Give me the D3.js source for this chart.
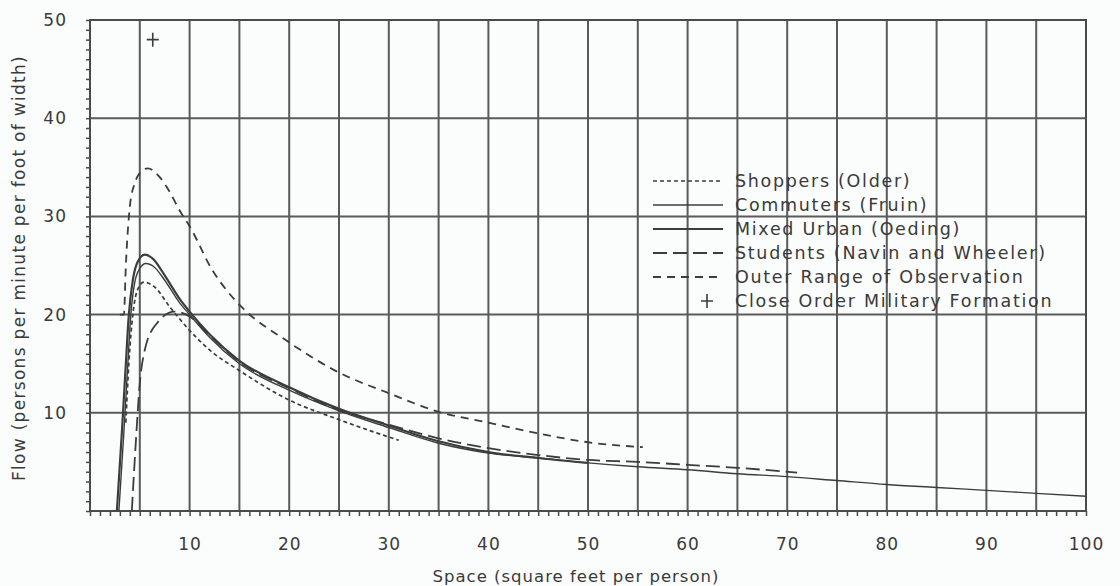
<!DOCTYPE html>
<html>
<head>
<meta charset="utf-8">
<script src="https://cdn.jsdelivr.net/npm/d3@7"></script>
<style>
  body { margin: 0; background: #fbfcfc; }
  svg { display: block; }
  text { font-family: "DejaVu Sans", sans-serif; fill: #3a3a3a; }
</style>
</head>
<body>
<svg id="chart" width="1120" height="586"></svg>
<script>
// values (x = sq ft / person, y = persons / min / ft)
const xTickLabels = [10, 20, 30, 40, 50, 60, 70, 80, 90, 100];
const yTickLabels = [10, 20, 30, 40, 50];

const shoppers = [[3.6, 9], [3.9, 15], [4.3, 20], [4.8, 22.6], [5.4, 23.3], [6.5, 22.8],
  [8, 20.8], [10, 18.4], [12, 16.4], [15, 14.3], [20, 11.3], [25, 9.3], [31, 7.2]];

const commuters = [[2.9, 0], [3.4, 8], [3.8, 15], [4.1, 20], [4.5, 23.3], [5, 24.7],
  [5.6, 25.2], [6.5, 24.8], [7.5, 23.5], [9, 21.2], [10, 20], [12, 17.7], [15, 15],
  [20, 12.3], [25, 10.2], [30, 8.5], [35, 6.9], [40, 5.9], [45, 5.4], [50, 4.9],
  [55, 4.5], [60, 4.2], [65, 3.8], [70, 3.5], [75, 3.1], [80, 2.7], [85, 2.4],
  [90, 2.1], [95, 1.8], [100, 1.5]];

const mixedUrban = [[2.7, 0], [3.2, 8], [3.6, 15], [3.9, 20], [4.3, 23.5], [4.8, 25.4],
  [5.5, 26.1], [6.3, 25.7], [7.5, 24], [9, 21.6], [10, 20.3], [12, 18], [15, 15.3],
  [20, 12.6], [25, 10.4], [30, 8.7], [35, 7.1], [40, 6.0], [45, 5.4], [50, 4.9]];

const students = [[4.2, 0], [4.6, 7], [5.0, 13], [5.5, 16.4], [6.7, 19.1], [8.5, 20.3],
  [10, 19.8], [12, 17.9], [15, 15.2], [20, 12.5], [25, 10.3], [30, 8.8], [35, 7.4],
  [40, 6.4], [45, 5.7], [50, 5.2], [55, 5.0], [60, 4.7], [65, 4.4], [71, 3.9]];

const outerRange = [[3.0, 20], [3.4, 20], [3.6, 25], [4.0, 31], [4.5, 33.4], [5.0, 34.4],
  [5.8, 34.9], [7, 34], [8, 32.5], [9, 30.6], [10, 29], [12.3, 24.5], [13.7, 22.5],
  [15.4, 20.6], [19.8, 17.3], [25, 14.1], [30, 12.0], [35, 10.1], [40, 9.0],
  [45, 7.9], [50, 7.0], [55.5, 6.5]];

const military = [[6.3, 48]];

const seriesNames = ["Shoppers (Older)", "Commuters (Fruin)", "Mixed Urban (Oeding)",
  "Students (Navin and Wheeler)", "Outer Range of Observation", "Close Order Military Formation"];

const ink = "#3c3c3c";
const svg = d3.select("#chart");

const x = d3.scaleLinear().domain([0, 100]).range([90, 1086]);
const y = d3.scaleLinear().domain([0, 50]).range([511, 20]);

// grid
const grid = svg.append("g").attr("stroke", "#5a5a5a").attr("stroke-width", 2);
grid.selectAll(".vg").data(d3.range(5, 100, 5)).enter().append("line")
  .attr("x1", d => x(d)).attr("x2", d => x(d))
  .attr("y1", y(0)).attr("y2", y(50));
grid.selectAll(".hg").data(d3.range(10, 50, 10)).enter().append("line")
  .attr("x1", x(0)).attr("x2", x(100))
  .attr("y1", d => y(d)).attr("y2", d => y(d));
grid.append("rect")
  .attr("x", x(0)).attr("y", y(50))
  .attr("width", x(100) - x(0)).attr("height", y(0) - y(50))
  .attr("fill", "none").attr("stroke", "#4a4a4a");

// minor ticks
const xMinor = svg.append("g").attr("transform", `translate(0,${y(0)})`)
  .call(d3.axisBottom(x).tickValues(d3.range(0, 101)).tickSize(5).tickFormat(""));
const yMinor = svg.append("g").attr("transform", `translate(${x(0)},0)`)
  .call(d3.axisLeft(y).tickValues(d3.range(0, 51)).tickSize(4).tickFormat(""));
[xMinor, yMinor].forEach(g => {
  g.select(".domain").remove();
  g.selectAll("line").attr("stroke", "#4a4a4a").attr("stroke-width", 1.5);
});

// tick labels
const xLab = svg.append("g").attr("transform", `translate(0,${y(0)})`)
  .call(d3.axisBottom(x).tickValues(xTickLabels).tickSize(0).tickPadding(27));
const yLab = svg.append("g").attr("transform", `translate(${x(0)},0)`)
  .call(d3.axisLeft(y).tickValues(yTickLabels).tickSize(0).tickPadding(23));
[xLab, yLab].forEach(g => {
  g.select(".domain").remove();
  g.selectAll("text").attr("font-size", 17).attr("fill", "#3a3a3a")
    .attr("letter-spacing", "1px")
    .attr("font-family", "DejaVu Sans, sans-serif");
});

svg.append("text")
  .attr("x", 576).attr("y", 582)
  .attr("text-anchor", "middle").attr("font-size", 16.5)
  .attr("letter-spacing", "1px")
  .text("Space (square feet per person)");
svg.append("text")
  .attr("transform", "translate(25,268) rotate(-90)")
  .attr("text-anchor", "middle").attr("font-size", 17)
  .attr("letter-spacing", "1.3px")
  .text("Flow (persons per minute per foot of width)");

// curves
const line = d3.line().x(d => x(d[0])).y(d => y(d[1])).curve(d3.curveMonotoneX);
const styles = [
  { data: shoppers, width: 1.7, dash: "4,3" },
  { data: commuters, width: 1.4, dash: null },
  { data: mixedUrban, width: 2.2, dash: null },
  { data: students, width: 1.8, dash: "14,6" },
  { data: outerRange, width: 1.8, dash: "8,6" }
];
svg.append("g").selectAll("path").data(styles).enter().append("path")
  .attr("d", d => line(d.data))
  .attr("fill", "none")
  .attr("stroke", ink)
  .attr("stroke-width", d => d.width)
  .attr("stroke-dasharray", d => d.dash);

svg.append("g").selectAll("path").data(military).enter().append("path")
  .attr("transform", d => `translate(${x(d[0])},${y(d[1])})`)
  .attr("d", "M-6,0H6M0,-7V7")
  .attr("stroke", ink).attr("stroke-width", 1.6);

// legend
const legend = svg.append("g").attr("transform", "translate(653,181)");
const rows = legend.selectAll("g").data(seriesNames).enter().append("g")
  .attr("transform", (d, i) => `translate(0,${i * 24})`);
rows.filter((d, i) => i < 5).append("line")
  .attr("x1", 0).attr("x2", 70).attr("y1", 0).attr("y2", 0)
  .attr("stroke", ink)
  .attr("stroke-width", (d, i) => styles[i].width)
  .attr("stroke-dasharray", (d, i) => styles[i].dash);
rows.filter((d, i) => i === 5).append("path")
  .attr("d", "M48,0H60M54,-7V7")
  .attr("stroke", ink).attr("stroke-width", 1.6);
rows.append("text")
  .attr("x", 82).attr("y", 0).attr("dy", "0.35em")
  .attr("font-size", 17.5)
  .attr("letter-spacing", "1.7px")
  .text(d => d);
</script>
</body>
</html>
